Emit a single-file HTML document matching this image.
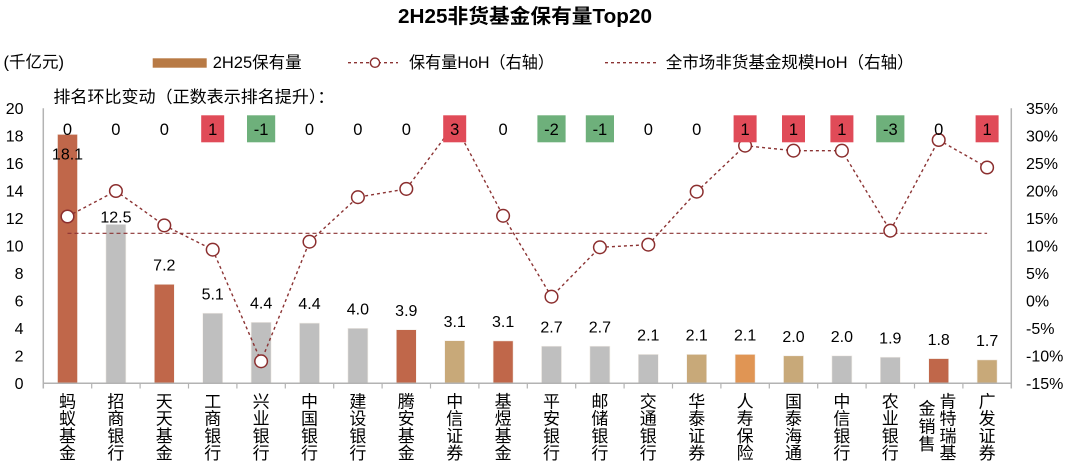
<!DOCTYPE html>
<html>
<head>
<meta charset="utf-8">
<style>
html,body{margin:0;padding:0;background:#fff;}
svg{display:block;}
text{font-family:"Liberation Sans","Noto Sans CJK SC",sans-serif;fill:#000;}
</style>
</head>
<body>
<svg width="1080" height="469" viewBox="0 0 1080 469" xmlns="http://www.w3.org/2000/svg">
<rect x="0" y="0" width="1080" height="469" fill="#fff"/>

<!-- Title -->
<text x="525" y="23" font-size="20" font-weight="bold" text-anchor="middle" textLength="254" lengthAdjust="spacingAndGlyphs">2H25非货基金保有量Top20</text>

<!-- Unit & legend -->
<text x="3.5" y="67.5" font-size="16.5">(千亿元)</text>
<rect x="152.7" y="58.3" width="54" height="9.4" fill="#B87A45"/>
<text x="212.7" y="68" font-size="16.5">2H25保有量</text>
<line x1="348" y1="62.7" x2="398" y2="62.7" stroke="#8B3333" stroke-width="1.3" stroke-dasharray="3,3"/>
<circle cx="375" cy="62.7" r="4.6" fill="#fff" stroke="#8B2E2E" stroke-width="1.4"/>
<text x="409" y="68" font-size="16.5" textLength="145" lengthAdjust="spacingAndGlyphs">保有量HoH（右轴）</text>
<line x1="605" y1="62.7" x2="659" y2="62.7" stroke="#8B3333" stroke-width="1.3" stroke-dasharray="3,3"/>
<text x="665.7" y="68" font-size="16.5" textLength="248" lengthAdjust="spacingAndGlyphs">全市场非货基金规模HoH（右轴）</text>
<text x="53.4" y="102.5" font-size="16.5" textLength="281" lengthAdjust="spacingAndGlyphs">排名环比变动（正数表示排名提升）：</text>

<!-- Left axis labels -->
<g font-size="16" text-anchor="end">
<text x="23.5" y="114">20</text>
<text x="23.5" y="141.5">18</text>
<text x="23.5" y="169">16</text>
<text x="23.5" y="196.5">14</text>
<text x="23.5" y="224">12</text>
<text x="23.5" y="251.5">10</text>
<text x="23.5" y="279">8</text>
<text x="23.5" y="306.5">6</text>
<text x="23.5" y="334">4</text>
<text x="23.5" y="361.5">2</text>
<text x="23.5" y="389">0</text>
</g>

<!-- Right axis labels -->
<g font-size="16">
<text x="1026" y="114">35%</text>
<text x="1026" y="141.5">30%</text>
<text x="1026" y="169">25%</text>
<text x="1026" y="196.5">20%</text>
<text x="1026" y="224">15%</text>
<text x="1026" y="251.5">10%</text>
<text x="1026" y="279">5%</text>
<text x="1026" y="306.5">0%</text>
<text x="1026" y="334">-5%</text>
<text x="1026" y="361.5">-10%</text>
<text x="1026" y="389">-15%</text>
</g>

<!-- Bars -->
<g stroke="#f3eee8" stroke-width="0.6">
<rect x="57.5" y="134.4" width="20" height="248.9" fill="#C0674A"/>
<rect x="105.9" y="211.4" width="20" height="171.9" fill="#BFBFBF"/>
<rect x="154.3" y="284.3" width="20" height="99" fill="#C0674A"/>
<rect x="202.7" y="313.2" width="20" height="70.1" fill="#BFBFBF"/>
<rect x="251.1" y="322.3" width="20" height="61" fill="#BFBFBF"/>
<rect x="299.5" y="323.1" width="20" height="60.2" fill="#BFBFBF"/>
<rect x="347.9" y="328.3" width="20" height="55" fill="#BFBFBF"/>
<rect x="396.3" y="329.7" width="20" height="53.6" fill="#C0674A"/>
<rect x="444.7" y="340.7" width="20" height="42.6" fill="#C8A979"/>
<rect x="493.1" y="340.9" width="20" height="42.4" fill="#C0674A"/>
<rect x="541.5" y="346.2" width="20" height="37.1" fill="#BFBFBF"/>
<rect x="589.9" y="346.2" width="20" height="37.1" fill="#BFBFBF"/>
<rect x="638.3" y="354.4" width="20" height="28.9" fill="#BFBFBF"/>
<rect x="686.7" y="354.4" width="20" height="28.9" fill="#C8A979"/>
<rect x="735.1" y="354.4" width="20" height="28.9" fill="#E09554"/>
<rect x="783.5" y="355.8" width="20" height="27.5" fill="#C8A979"/>
<rect x="831.9" y="355.8" width="20" height="27.5" fill="#BFBFBF"/>
<rect x="880.3" y="357.2" width="20" height="26.1" fill="#BFBFBF"/>
<rect x="928.7" y="358.6" width="20" height="24.7" fill="#C0674A"/>
<rect x="977.1" y="359.9" width="20" height="23.4" fill="#C8A979"/>
</g>

<!-- Axes -->
<g stroke="#B3B3B3" stroke-width="1.5" fill="none">
<line x1="43.3" y1="108.3" x2="43.3" y2="388.5"/>
<line x1="1011.3" y1="108.3" x2="1011.3" y2="388.5"/>
<line x1="43.3" y1="383.3" x2="1011.3" y2="383.3"/>
</g>
<g stroke="#B3B3B3" stroke-width="1.2">
<line x1="91.7" y1="383.3" x2="91.7" y2="388.5"/>
<line x1="140.1" y1="383.3" x2="140.1" y2="388.5"/>
<line x1="188.5" y1="383.3" x2="188.5" y2="388.5"/>
<line x1="236.9" y1="383.3" x2="236.9" y2="388.5"/>
<line x1="285.3" y1="383.3" x2="285.3" y2="388.5"/>
<line x1="333.7" y1="383.3" x2="333.7" y2="388.5"/>
<line x1="382.1" y1="383.3" x2="382.1" y2="388.5"/>
<line x1="430.5" y1="383.3" x2="430.5" y2="388.5"/>
<line x1="478.9" y1="383.3" x2="478.9" y2="388.5"/>
<line x1="527.3" y1="383.3" x2="527.3" y2="388.5"/>
<line x1="575.7" y1="383.3" x2="575.7" y2="388.5"/>
<line x1="624.1" y1="383.3" x2="624.1" y2="388.5"/>
<line x1="672.5" y1="383.3" x2="672.5" y2="388.5"/>
<line x1="720.9" y1="383.3" x2="720.9" y2="388.5"/>
<line x1="769.3" y1="383.3" x2="769.3" y2="388.5"/>
<line x1="817.7" y1="383.3" x2="817.7" y2="388.5"/>
<line x1="866.1" y1="383.3" x2="866.1" y2="388.5"/>
<line x1="914.5" y1="383.3" x2="914.5" y2="388.5"/>
<line x1="962.9" y1="383.3" x2="962.9" y2="388.5"/>
</g>

<!-- Market HoH dashed line -->
<line x1="67.5" y1="233.3" x2="987.1" y2="233.3" stroke="#8B3333" stroke-width="1.1" stroke-dasharray="4,3"/>

<!-- Value labels -->
<g font-size="16" text-anchor="middle">
<text x="67.5" y="159.3">18.1</text>
<rect x="100" y="208.5" width="32" height="16" fill="#fff"/>
<text x="115.9" y="222.3">12.5</text>
<text x="164.3" y="270.5">7.2</text>
<text x="212.7" y="299.4">5.1</text>
<text x="261.1" y="308.5">4.4</text>
<text x="309.5" y="309">4.4</text>
<text x="357.9" y="314.5">4.0</text>
<text x="406.3" y="315.9">3.9</text>
<text x="454.7" y="326.9">3.1</text>
<text x="503.1" y="327.1">3.1</text>
<text x="551.5" y="332.4">2.7</text>
<text x="599.9" y="332.4">2.7</text>
<text x="648.3" y="340.6">2.1</text>
<text x="696.7" y="340.6">2.1</text>
<text x="745.1" y="340.6">2.1</text>
<text x="793.5" y="342">2.0</text>
<text x="841.9" y="342">2.0</text>
<text x="890.3" y="343.4">1.9</text>
<text x="938.7" y="344.8">1.8</text>
<text x="987.1" y="346.1">1.7</text>
</g>

<!-- HoH series -->
<polyline fill="none" stroke="#8B3333" stroke-width="1.4" stroke-dasharray="3,3"
points="67.5,216.5 115.9,191 164.3,225.4 212.7,249.7 261.1,361.3 309.5,241.7 357.9,197.2 406.3,188.9 454.7,124 503.1,215.8 551.5,296.7 599.9,247.3 648.3,244.7 696.7,191.7 745.1,145.7 793.5,150.7 841.9,150.7 890.3,230.7 938.7,140 987.1,167.5"/>
<g fill="#fff" stroke="#8B2E2E" stroke-width="1.5">
<circle cx="67.5" cy="216.5" r="6.3"/>
<circle cx="115.9" cy="191" r="6.3"/>
<circle cx="164.3" cy="225.4" r="6.3"/>
<circle cx="212.7" cy="249.7" r="6.3"/>
<circle cx="261.1" cy="361.3" r="6.3"/>
<circle cx="309.5" cy="241.7" r="6.3"/>
<circle cx="357.9" cy="197.2" r="6.3"/>
<circle cx="406.3" cy="188.9" r="6.3"/>
<circle cx="454.7" cy="124" r="6.3"/>
<circle cx="503.1" cy="215.8" r="6.3"/>
<circle cx="551.5" cy="296.7" r="6.3"/>
<circle cx="599.9" cy="247.3" r="6.3"/>
<circle cx="648.3" cy="244.7" r="6.3"/>
<circle cx="696.7" cy="191.7" r="6.3"/>
<circle cx="745.1" cy="145.7" r="6.3"/>
<circle cx="793.5" cy="150.7" r="6.3"/>
<circle cx="841.9" cy="150.7" r="6.3"/>
<circle cx="890.3" cy="230.7" r="6.3"/>
<circle cx="938.7" cy="140" r="6.3"/>
<circle cx="987.1" cy="167.5" r="6.3"/>
</g>

<!-- Rank change boxes -->
<g>
<rect x="201.2" y="115.3" width="23" height="27" fill="#E04B58"/>
<rect x="247" y="115.3" width="28.2" height="27" fill="#6EB07B"/>
<rect x="443.2" y="115.3" width="23" height="27" fill="#E04B58"/>
<rect x="537.4" y="115.3" width="28.2" height="27" fill="#6EB07B"/>
<rect x="585.8" y="115.3" width="28.2" height="27" fill="#6EB07B"/>
<rect x="733.6" y="115.3" width="23" height="27" fill="#E04B58"/>
<rect x="782" y="115.3" width="23" height="27" fill="#E04B58"/>
<rect x="830.4" y="115.3" width="23" height="27" fill="#E04B58"/>
<rect x="876.2" y="115.3" width="28.2" height="27" fill="#6EB07B"/>
<rect x="975.6" y="115.3" width="23" height="27" fill="#E04B58"/>
</g>
<g font-size="16.5" text-anchor="middle">
<text x="67.5" y="135">0</text>
<text x="115.9" y="135">0</text>
<text x="164.3" y="135">0</text>
<text x="212.7" y="135" fill="#fff">1</text>
<text x="261.1" y="135" fill="#fff">-1</text>
<text x="309.5" y="135">0</text>
<text x="357.9" y="135">0</text>
<text x="406.3" y="135">0</text>
<text x="454.7" y="135" fill="#fff">3</text>
<text x="503.1" y="135">0</text>
<text x="551.5" y="135" fill="#fff">-2</text>
<text x="599.9" y="135" fill="#fff">-1</text>
<text x="648.3" y="135">0</text>
<text x="696.7" y="135">0</text>
<text x="745.1" y="135" fill="#fff">1</text>
<text x="793.5" y="135" fill="#fff">1</text>
<text x="841.9" y="135" fill="#fff">1</text>
<text x="890.3" y="135" fill="#fff">-3</text>
<text x="938.7" y="135">0</text>
<text x="987.1" y="135" fill="#fff">1</text>
</g>

<!-- Category labels (vertical) -->
<g font-size="17" text-anchor="middle">
<text x="67.5" y="407.5">蚂</text><text x="67.5" y="424.7">蚁</text><text x="67.5" y="441.9">基</text><text x="67.5" y="459.1">金</text>
<text x="115.9" y="407.5">招</text><text x="115.9" y="424.7">商</text><text x="115.9" y="441.9">银</text><text x="115.9" y="459.1">行</text>
<text x="164.3" y="407.5">天</text><text x="164.3" y="424.7">天</text><text x="164.3" y="441.9">基</text><text x="164.3" y="459.1">金</text>
<text x="212.7" y="407.5">工</text><text x="212.7" y="424.7">商</text><text x="212.7" y="441.9">银</text><text x="212.7" y="459.1">行</text>
<text x="261.1" y="407.5">兴</text><text x="261.1" y="424.7">业</text><text x="261.1" y="441.9">银</text><text x="261.1" y="459.1">行</text>
<text x="309.5" y="407.5">中</text><text x="309.5" y="424.7">国</text><text x="309.5" y="441.9">银</text><text x="309.5" y="459.1">行</text>
<text x="357.9" y="407.5">建</text><text x="357.9" y="424.7">设</text><text x="357.9" y="441.9">银</text><text x="357.9" y="459.1">行</text>
<text x="406.3" y="407.5">腾</text><text x="406.3" y="424.7">安</text><text x="406.3" y="441.9">基</text><text x="406.3" y="459.1">金</text>
<text x="454.7" y="407.5">中</text><text x="454.7" y="424.7">信</text><text x="454.7" y="441.9">证</text><text x="454.7" y="459.1">券</text>
<text x="503.1" y="407.5">基</text><text x="503.1" y="424.7">煜</text><text x="503.1" y="441.9">基</text><text x="503.1" y="459.1">金</text>
<text x="551.5" y="407.5">平</text><text x="551.5" y="424.7">安</text><text x="551.5" y="441.9">银</text><text x="551.5" y="459.1">行</text>
<text x="599.9" y="407.5">邮</text><text x="599.9" y="424.7">储</text><text x="599.9" y="441.9">银</text><text x="599.9" y="459.1">行</text>
<text x="648.3" y="407.5">交</text><text x="648.3" y="424.7">通</text><text x="648.3" y="441.9">银</text><text x="648.3" y="459.1">行</text>
<text x="696.7" y="407.5">华</text><text x="696.7" y="424.7">泰</text><text x="696.7" y="441.9">证</text><text x="696.7" y="459.1">券</text>
<text x="745.1" y="407.5">人</text><text x="745.1" y="424.7">寿</text><text x="745.1" y="441.9">保</text><text x="745.1" y="459.1">险</text>
<text x="793.5" y="407.5">国</text><text x="793.5" y="424.7">泰</text><text x="793.5" y="441.9">海</text><text x="793.5" y="459.1">通</text>
<text x="841.9" y="407.5">中</text><text x="841.9" y="424.7">信</text><text x="841.9" y="441.9">银</text><text x="841.9" y="459.1">行</text>
<text x="890.3" y="407.5">农</text><text x="890.3" y="424.7">业</text><text x="890.3" y="441.9">银</text><text x="890.3" y="459.1">行</text>
<text x="948" y="407.5">肯</text><text x="948" y="424.7">特</text><text x="948" y="441.9">瑞</text><text x="948" y="459.1">基</text>
<text x="927" y="414.5">金</text><text x="927" y="432.3">销</text><text x="927" y="450.1">售</text>
<text x="987.1" y="407.5">广</text><text x="987.1" y="424.7">发</text><text x="987.1" y="441.9">证</text><text x="987.1" y="459.1">券</text>
</g>
</svg>
</body>
</html>
